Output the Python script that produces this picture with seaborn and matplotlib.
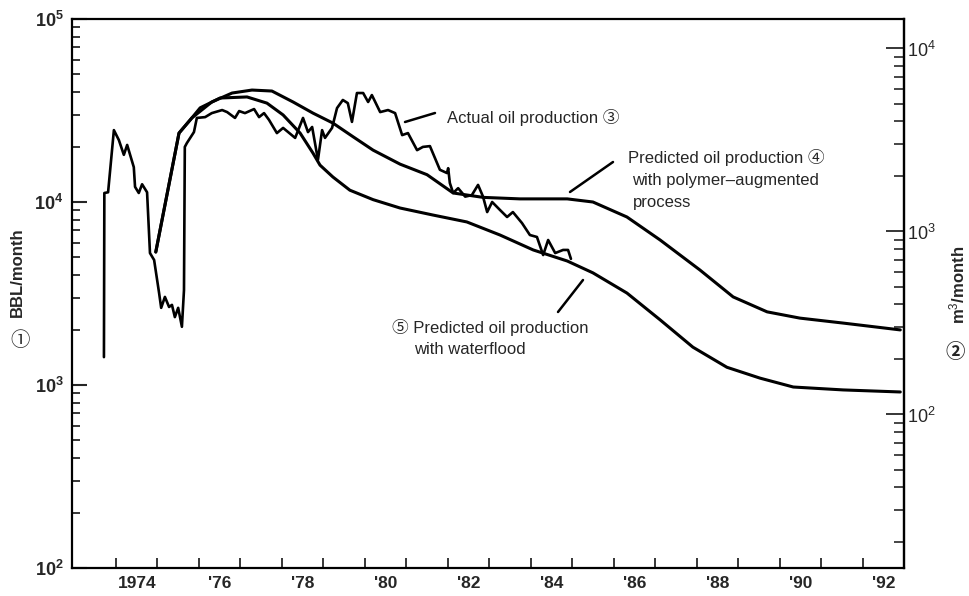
import numpy as np
import pandas as pd
import matplotlib
matplotlib.use("Agg")
import matplotlib.pyplot as plt
import seaborn as sns
from matplotlib.ticker import FixedLocator, FixedFormatter, LogLocator, NullFormatter
from matplotlib.lines import Line2D

# ---------------- data ----------------
actual_year = [1973.71, 1973.72, 1973.81, 1973.95, 1974.07, 1974.19, 1974.27, 1974.43, 1974.46,
               1974.55, 1974.63, 1974.75, 1974.82, 1974.92, 1975.04, 1975.09, 1975.18, 1975.28,
               1975.35, 1975.42, 1975.50, 1975.59, 1975.64, 1975.66, 1975.71, 1975.88, 1975.95,
               1976.15, 1976.31, 1976.56, 1976.68, 1976.87, 1976.97, 1977.11, 1977.33, 1977.45,
               1977.57, 1977.69, 1977.88, 1978.03, 1978.32, 1978.51, 1978.63, 1978.73, 1978.87,
               1978.97, 1979.04, 1979.21, 1979.33, 1979.47, 1979.59, 1979.69, 1979.81, 1979.96,
               1980.08, 1980.17, 1980.37, 1980.56, 1980.73, 1980.90, 1981.04, 1981.26, 1981.40,
               1981.57, 1981.81, 1981.98, 1982.01, 1982.05, 1982.13, 1982.25, 1982.42, 1982.58,
               1982.73, 1982.85, 1982.95, 1983.07, 1983.26, 1983.43, 1983.57, 1983.79, 1983.98,
               1984.15, 1984.30, 1984.42, 1984.59, 1984.78, 1984.90, 1984.97]
actual_bbl = [1420, 11200, 11300, 24700, 21800, 18100, 20500, 15500, 12100,
              11200, 12500, 11300, 5260, 4820, 3180, 2640, 3030, 2670,
              2740, 2350, 2640, 2080, 3300, 20000, 21000, 24100, 28800,
              29100, 30600, 31800, 31000, 28800, 31400, 30600, 32200, 29100,
              30600, 28100, 23800, 25400, 22400, 28800, 24100, 25700, 17000,
              24700, 22400, 25400, 32600, 36100, 34700, 27400, 39400, 39400,
              35200, 38400, 31000, 31800, 30600, 23200, 23800, 19200, 20000,
              20200, 15000, 14400, 15300, 12700, 11200, 11900, 10700, 10900,
              12400, 10700, 8810, 10000, 9040, 8280, 8810, 7670, 6600,
              6440, 5130, 6200, 5260, 5470, 5470, 4890]

polymer_year = [1974.96, 1975.52, 1975.83, 1976.31, 1976.80, 1977.28, 1977.76, 1978.27, 1978.75,
                1979.23, 1979.72, 1980.20, 1980.85, 1981.50, 1982.13, 1982.85, 1983.74, 1984.88,
                1985.50, 1986.32, 1987.12, 1988.08, 1988.88, 1989.70, 1990.49, 1991.53, 1992.91]
polymer_bbl = [5330, 23800, 28800, 35200, 39400, 40900, 40400, 35200, 30600,
               27000, 22700, 19200, 16100, 14100, 11200, 10600, 10400, 10400,
               10000, 8280, 6200, 4250, 3030, 2510, 2320, 2180, 2000]

waterflood_year = [1974.96, 1975.52, 1975.83, 1976.03, 1976.51, 1977.16, 1977.64, 1978.03, 1978.44,
                   1978.75, 1978.92, 1979.23, 1979.64, 1980.20, 1980.85, 1981.64, 1982.46, 1983.26,
                   1984.06, 1984.88, 1985.50, 1986.32, 1987.12, 1987.91, 1988.73, 1989.53, 1990.33,
                   1991.53, 1992.91]
waterflood_bbl = [5330, 23800, 28800, 32700, 37000, 37500, 34700, 29900, 23800,
                  18500, 15900, 13700, 11600, 10300, 9270, 8490, 7780, 6600,
                  5470, 4760, 4100, 3180, 2270, 1610, 1250, 1090, 975,
                  940, 916]

year_tick_labels = ["1974", "'76", "'78", "'80", "'82", "'84", "'86", "'88", "'90", "'92"]
left_ticks = [1e2, 1e3, 1e4, 1e5]
left_tick_labels = [r"$\mathbf{10^2}$", r"$\mathbf{10^3}$", r"$\mathbf{10^4}$", r"$\mathbf{10^5}$"]
right_ticks = [1e2, 1e3, 1e4]
right_tick_labels = [r"$10^2$", r"$10^3$", r"$10^4$"]
BBL_PER_M3 = 6.9   # visual scale of the right axis in the picture

# ---------------- style ----------------
sns.set_style("ticks")
plt.rcParams["font.family"] = ["Liberation Sans", "Noto Sans CJK JP", "DejaVu Sans"]
plt.rcParams["mathtext.fontset"] = "custom"
plt.rcParams["mathtext.rm"] = "Liberation Sans"
plt.rcParams["mathtext.bf"] = "Liberation Sans:bold"
plt.rcParams["mathtext.it"] = "Liberation Sans:italic"

W, H = 970, 596
fig = plt.figure(figsize=(W / 100, H / 100), dpi=100)
L, R, T, B = 72, 904, 19, 568
ax = fig.add_axes([L / W, 1 - B / H, (R - L) / W, (B - T) / H])

def fx(px):
    return px / W

def fy(py):
    return 1 - py / H

frames = {
    "actual": pd.DataFrame({"year": actual_year, "bbl": actual_bbl}),
    "polymer": pd.DataFrame({"year": polymer_year, "bbl": polymer_bbl}),
    "waterflood": pd.DataFrame({"year": waterflood_year, "bbl": waterflood_bbl}),
}
widths = {"actual": 1.9, "polymer": 2.2, "waterflood": 2.2}
for name, df in frames.items():
    sns.lineplot(data=df, x="year", y="bbl", ax=ax, color="black", lw=widths[name],
                 sort=False, estimator=None, legend=False)

ax.set_yscale("log")
ax.set_ylim(1e2, 1e5)
ax.set_xlim(1972.94, 1993.0)
ax.set_xlabel("")
ax.set_ylabel("")

for s in ax.spines.values():
    s.set_linewidth(1.6)
    s.set_color("black")

# x ticks: year boundaries (ticks) and labels at mid-year
years = list(range(1974, 1993))
ax.xaxis.set_major_locator(FixedLocator(years))
ax.xaxis.set_major_formatter(NullFormatter())
label_pos = [1974.5 + 2 * i for i in range(len(year_tick_labels))]
ax.xaxis.set_minor_locator(FixedLocator(label_pos))
ax.xaxis.set_minor_formatter(FixedFormatter(year_tick_labels))
ax.tick_params(axis="x", which="major", direction="in", length=7, width=1.3, top=False)
ax.tick_params(axis="x", which="minor", length=0, pad=6, labelsize=12.5)
for t in ax.xaxis.get_minorticklabels():
    t.set_fontweight("bold")

# left y ticks
ax.yaxis.set_major_locator(FixedLocator(left_ticks))
ax.yaxis.set_major_formatter(FixedFormatter(left_tick_labels))
ax.yaxis.set_minor_locator(LogLocator(base=10, subs=np.arange(2, 10)))
ax.yaxis.set_minor_formatter(NullFormatter())
ax.tick_params(axis="y", which="major", direction="in", length=11, width=1.5, labelsize=13, pad=6, right=False)
ax.tick_params(axis="y", which="minor", direction="in", length=6, width=1.3, right=False)

# right axis in m3/month
sec = ax.secondary_yaxis("right", functions=(lambda v: v / BBL_PER_M3, lambda v: v * BBL_PER_M3))
sec.set_yticks(right_ticks)
sec.set_yticklabels(right_tick_labels)
sec.yaxis.set_minor_locator(LogLocator(base=10, subs=np.arange(2, 10)))
sec.yaxis.set_minor_formatter(NullFormatter())
sec.tick_params(which="major", direction="in", length=13, width=1.3, labelsize=13, pad=2)
sec.tick_params(which="minor", direction="in", length=7, width=1.2)
sec.spines["right"].set_linewidth(1.6)

# axis titles
fig.text(fx(17), fy(272), "BBL/month", rotation=90, ha="center", va="center",
         fontsize=12, fontweight="bold")
fig.text(fx(20), fy(341), "\u2460", ha="center", va="center", fontsize=14)
fig.text(fx(957), fy(285), "m$^3$/month", rotation=90, ha="center", va="center",
         fontsize=12, fontweight="bold")
fig.text(fx(955), fy(352), "\u2461", ha="center", va="center", fontsize=14, fontweight="bold")

# annotations
fs = 12
fig.text(fx(447), fy(118), "Actual oil production \u2462", ha="left", va="center", fontsize=fs)
fig.text(fx(628), fy(158), "Predicted oil production \u2463", ha="left", va="center", fontsize=fs)
fig.text(fx(632), fy(180), "with polymer\u2013augmented", ha="left", va="center", fontsize=fs)
fig.text(fx(633), fy(202), "process", ha="left", va="center", fontsize=fs)
fig.text(fx(392), fy(327), "\u2464 Predicted oil production", ha="left", va="center", fontsize=fs)
fig.text(fx(414), fy(350), "with waterflood", ha="left", va="center", fontsize=fs)

for (x0, y0, x1, y1) in [(405, 122, 435, 113), (570, 192, 613, 162), (558, 312, 583, 280)]:
    fig.add_artist(Line2D([fx(x0), fx(x1)], [fy(y0), fy(y1)], transform=fig.transFigure,
                          color="black", lw=1.8))

fig.savefig("out.png", dpi=100)
